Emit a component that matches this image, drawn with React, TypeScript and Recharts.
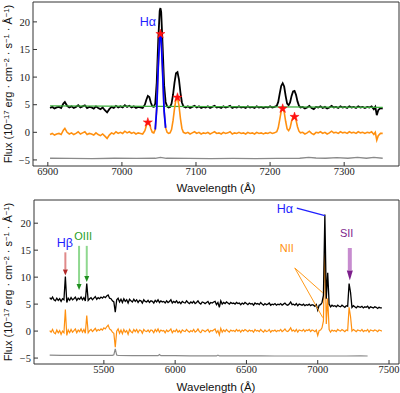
import React from 'react';
import { ComposedChart, Line, XAxis, YAxis, ReferenceLine, ReferenceDot, Symbols } from 'recharts';

// ---- top panel: zoom on the H-alpha region ----
const topWave = [
  6903, 6906, 6909, 6912, 6915, 6918, 6921, 6923, 6926, 6929,
  6932, 6935, 6938, 6941, 6944, 6947, 6950, 6953, 6956, 6959,
  6962, 6965, 6968, 6971, 6974, 6977, 6980, 6983, 6986, 6989,
  6992, 6995, 6998, 7001, 7004, 7007, 7010, 7013, 7016, 7019,
  7022, 7025, 7028, 7031, 7033, 7035, 7037, 7039, 7041, 7043,
  7045, 7047, 7049, 7051, 7052, 7053, 7055, 7057, 7059, 7061,
  7063, 7065, 7067, 7069, 7071, 7073, 7075, 7077, 7079, 7081,
  7083, 7086, 7089, 7092, 7095, 7098, 7101, 7104, 7107, 7110,
  7113, 7116, 7119, 7122, 7125, 7128, 7131, 7134, 7137, 7140,
  7143, 7146, 7149, 7152, 7155, 7158, 7161, 7164, 7167, 7170,
  7173, 7176, 7179, 7182, 7185, 7188, 7191, 7194, 7197, 7200,
  7203, 7206, 7209, 7211, 7213, 7215, 7217, 7219, 7221, 7223,
  7225, 7227, 7229, 7231, 7233, 7235, 7237, 7239, 7241, 7244,
  7247, 7250, 7253, 7256, 7259, 7262, 7265, 7268, 7271, 7274,
  7277, 7280, 7283, 7286, 7289, 7292, 7295, 7298, 7301, 7304,
  7307, 7310, 7313, 7316, 7319, 7322, 7325, 7328, 7331, 7334,
  7337, 7340, 7342, 7344, 7346, 7349, 7352,
];
const topFlux = [
  4.4, 4.6, 4.3, 4.5, 4.6, 4.4, 5.2, 5.5, 4.8, 4.5,
  4.7, 4.4, 4.6, 4.9, 4.5, 4.7, 4.9, 4.4, 4.6, 4.5,
  4.3, 4.7, 4.4, 4.2, 4.5, 4.0, 3.6, 4.2, 4.6, 4.4,
  4.8, 4.5, 4.7, 4.5, 4.9, 4.6, 4.8, 4.5, 4.7, 4.4,
  4.6, 4.5, 4.4, 5.0, 5.9, 6.6, 6.4, 5.4, 4.7, 4.6,
  5.2, 9.0, 16.5, 22.0, 22.5, 21.8, 15.5, 8.5, 5.5, 4.7,
  4.5, 4.6, 5.2, 6.8, 9.0, 10.7, 10.9, 9.6, 7.2, 5.4,
  4.7, 4.5, 4.7, 4.4, 4.6, 4.8, 4.5, 4.7, 4.4, 4.6,
  4.5, 4.7, 4.4, 4.6, 4.8, 4.5, 4.6, 4.4, 4.7, 4.5,
  4.6, 4.8, 4.4, 4.6, 4.5, 4.7, 4.5, 4.6, 4.4, 4.7,
  4.5, 4.6, 4.4, 4.7, 4.5, 4.6, 4.4, 4.6, 4.5, 4.7,
  4.5, 4.6, 4.8, 5.5, 7.0, 8.4, 8.9, 8.3, 6.6, 5.2,
  4.9, 5.4, 6.6, 7.4, 7.5, 6.8, 5.6, 4.8, 4.5, 4.6,
  4.3, 4.5, 4.8, 4.4, 4.2, 4.6, 4.5, 4.7, 4.4, 4.6,
  4.3, 4.5, 4.8, 4.5, 4.6, 4.4, 4.7, 4.5, 4.6, 4.4,
  4.7, 4.5, 4.6, 4.4, 4.7, 4.5, 4.6, 4.4, 4.6, 4.5,
  4.7, 4.2, 4.6, 3.1, 4.0, 4.4, 4.3,
];
// continuum-subtracted spectrum
const topResid = [
  -0.4, -0.2, -0.5, -0.3, -0.2, -0.4, 0.4, 0.7, 0.0, -0.3,
  -0.1, -0.4, -0.2, 0.1, -0.3, -0.1, 0.1, -0.4, -0.2, -0.3,
  -0.5, -0.1, -0.4, -0.6, -0.3, -0.7, -1.1, -0.5, -0.1, -0.3,
  0.1, -0.2, 0.0, -0.2, 0.2, -0.1, 0.1, -0.2, 0.0, -0.3,
  -0.1, -0.2, -0.3, 0.3, 1.2, 1.9, 1.7, 0.7, 0.0, -0.1,
  0.5, 4.3, 11.8, 17.3, 17.8, 17.1, 10.8, 3.8, 0.8, 0.0,
  -0.2, -0.1, 0.5, 2.1, 4.3, 6.0, 6.2, 4.9, 2.5, 0.7,
  0.0, -0.2, 0.0, -0.3, -0.1, 0.1, -0.2, 0.0, -0.3, -0.1,
  -0.2, 0.0, -0.3, -0.1, 0.1, -0.2, -0.1, -0.3, 0.0, -0.2,
  -0.1, 0.1, -0.3, -0.1, -0.2, 0.0, -0.2, -0.1, -0.3, 0.0,
  -0.2, -0.1, -0.3, 0.0, -0.2, -0.1, -0.3, -0.1, -0.2, 0.0,
  -0.2, -0.1, 0.1, 0.8, 2.3, 3.8, 4.3, 3.7, 2.0, 0.6,
  0.3, 0.8, 2.0, 2.8, 2.9, 2.2, 1.0, 0.2, -0.1, 0.0,
  -0.3, -0.1, 0.2, -0.2, -0.4, 0.0, -0.1, 0.1, -0.2, 0.0,
  -0.3, -0.1, 0.2, -0.1, 0.0, -0.2, 0.1, -0.1, 0.0, -0.2,
  0.1, -0.1, 0.0, -0.2, 0.1, -0.1, 0.0, -0.2, 0.0, -0.1,
  0.1, -0.4, 0.0, -1.4, -0.6, -0.2, -0.2,
];
const haFitWave = [7045, 7047, 7049, 7051, 7052, 7053, 7055, 7057, 7059];
const haFitFlux = [0.5, 4.3, 11.8, 17.3, 17.8, 17.1, 10.8, 3.8, 0.8];
const contWave = [6903, 7352];
const contFlux = [4.8, 4.5];
const topErrWave = [6903, 6930, 6960, 6990, 7020, 7045, 7052, 7060, 7090, 7120, 7150, 7180, 7210, 7240, 7252, 7262, 7275, 7290, 7305, 7318, 7330, 7340, 7352];
const topErr = [-4.7, -4.72, -4.75, -4.7, -4.72, -4.7, -4.55, -4.7, -4.72, -4.75, -4.72, -4.75, -4.72, -4.7, -4.55, -4.65, -4.7, -4.6, -4.7, -4.55, -4.7, -4.55, -4.7];
const starWave = [7035, 7052, 7075, 7217, 7233];
const starFlux = [1.8, 17.8, 6.3, 4.3, 2.8];
const topTicks = [6900, 7000, 7100, 7200, 7300];

// ---- bottom panel: full spectrum ----
const botWave = [
  5120, 5130, 5140, 5150, 5160, 5170, 5180, 5190, 5200, 5210,
  5220, 5230, 5240, 5250, 5260, 5270, 5280, 5290, 5300, 5310,
  5320, 5330, 5340, 5350, 5360, 5370, 5380, 5390, 5400, 5410,
  5420, 5430, 5440, 5450, 5460, 5470, 5480, 5490, 5500, 5510,
  5520, 5530, 5540, 5550, 5560, 5570, 5580, 5590, 5600, 5610,
  5620, 5630, 5640, 5650, 5660, 5670, 5680, 5690, 5700, 5710,
  5720, 5730, 5740, 5750, 5760, 5770, 5780, 5790, 5800, 5810,
  5820, 5830, 5840, 5850, 5860, 5870, 5880, 5890, 5900, 5910,
  5920, 5930, 5940, 5950, 5960, 5970, 5980, 5990, 6000, 6010,
  6020, 6030, 6040, 6050, 6060, 6070, 6080, 6090, 6100, 6110,
  6120, 6130, 6140, 6150, 6160, 6170, 6180, 6190, 6200, 6210,
  6220, 6230, 6240, 6250, 6260, 6270, 6280, 6290, 6300, 6310,
  6320, 6330, 6340, 6350, 6360, 6370, 6380, 6390, 6400, 6410,
  6420, 6430, 6440, 6450, 6460, 6470, 6480, 6490, 6500, 6510,
  6520, 6530, 6540, 6550, 6560, 6570, 6580, 6590, 6600, 6610,
  6620, 6630, 6640, 6650, 6660, 6670, 6680, 6690, 6700, 6710,
  6720, 6730, 6740, 6750, 6760, 6770, 6780, 6790, 6800, 6810,
  6820, 6830, 6840, 6850, 6860, 6870, 6880, 6890, 6900, 6910,
  6920, 6930, 6940, 6950, 6960, 6970, 6980, 6990, 7000, 7010,
  7020, 7030, 7040, 7050, 7060, 7070, 7080, 7090, 7100, 7110,
  7120, 7130, 7140, 7150, 7160, 7170, 7180, 7190, 7200, 7210,
  7220, 7230, 7240, 7250, 7260, 7270, 7280, 7290, 7300, 7310,
  7320, 7330, 7340, 7350, 7360, 7370, 7380, 7390, 7400, 7410,
  7420, 7430, 7440, 7450,
];
const botFlux = [
  6.2, 5.9, 6.3, 5.8, 5.6, 6.1, 5.7, 6.0, 5.5, 6.0,
  5.8, 10.1, 5.3, 6.1, 5.7, 6.2, 5.8, 6.0, 6.3, 5.7,
  6.1, 5.9, 6.3, 5.8, 6.2, 5.6, 8.8, 5.7, 6.0, 6.2,
  5.8, 6.1, 6.4, 5.9, 6.2, 6.0, 6.3, 6.1, 6.4, 6.2,
  6.5, 6.7, 6.1, 6.0, 5.6, 5.4, 3.5, 5.8, 6.1, 5.4,
  5.9, 5.3, 6.0, 5.5, 5.8, 5.2, 5.9, 5.6, 5.4, 5.9,
  5.5, 5.8, 5.3, 5.7, 5.6, 5.2, 5.8, 5.5, 5.4, 5.7,
  5.3, 5.6, 5.5, 5.2, 5.7, 5.4, 5.8, 5.3, 5.6, 5.4,
  5.5, 5.2, 5.6, 5.3, 5.5, 5.8, 5.2, 5.5, 5.3, 5.6,
  5.2, 5.4, 5.1, 5.5, 5.3, 5.2, 5.6, 5.3, 5.1, 5.4,
  5.2, 5.5, 5.1, 5.3, 5.6, 5.2, 5.0, 5.4, 5.3, 5.1,
  5.3, 5.5, 5.0, 5.3, 5.2, 5.4, 5.5, 4.9, 5.3, 4.4,
  5.6, 5.0, 5.3, 5.1, 5.4, 5.2, 5.0, 5.3, 5.1, 5.2,
  5.0, 5.3, 5.1, 5.2, 4.9, 5.2, 5.0, 5.3, 5.1, 4.9,
  5.2, 5.0, 5.1, 4.8, 5.2, 5.0, 5.1, 4.9, 5.3, 5.0,
  4.8, 5.1, 4.9, 5.0, 5.2, 4.8, 5.0, 4.9, 5.1, 4.8,
  5.0, 4.9, 5.1, 4.8, 5.0, 5.2, 4.9, 4.8, 5.0, 5.4,
  4.9, 5.0, 4.8, 5.1, 4.7, 5.0, 4.9, 4.8, 5.0, 4.7,
  4.9, 4.8, 5.0, 4.7, 4.9, 4.8, 4.6, 4.9, 3.9, 4.8,
  4.9, 5.3, 6.6, 21.6, 6.0, 10.8, 5.0, 4.5, 4.8, 4.6,
  4.7, 4.5, 4.8, 4.6, 4.5, 4.8, 4.6, 4.4, 4.7, 4.6,
  8.8, 7.2, 4.4, 4.7, 4.5, 4.3, 4.6, 4.5, 4.4, 4.6,
  4.3, 4.5, 4.4, 4.6, 4.2, 4.5, 4.4, 4.3, 4.5, 4.4,
  4.2, 4.4, 4.3, 4.3,
];
const botResid = [
  0.1, -0.2, 0.3, -0.3, -0.5, 0.2, -0.3, 0.1, -0.6, 0.0,
  -0.3, 4.0, -0.8, 0.2, -0.3, 0.3, -0.2, 0.1, 0.4, -0.3,
  0.2, -0.1, 0.4, -0.2, 0.3, -0.4, 2.9, -0.3, 0.1, 0.3,
  -0.1, 0.2, 0.5, 0.0, 0.3, 0.1, 0.4, 0.2, 0.6, 0.4,
  0.8, 1.1, 0.4, 0.2, -0.2, -0.4, -3.0, 0.0, 0.4, -0.4,
  0.2, -0.5, 0.3, -0.2, 0.1, -0.6, 0.3, -0.1, -0.3, 0.3,
  -0.1, 0.3, -0.3, 0.2, 0.1, -0.4, 0.3, 0.0, -0.1, 0.2,
  -0.2, 0.2, 0.1, -0.3, 0.3, -0.1, 0.4, -0.2, 0.2, 0.0,
  0.1, -0.3, 0.2, -0.1, 0.1, 0.4, -0.3, 0.1, -0.1, 0.3,
  -0.2, 0.1, -0.3, 0.2, 0.0, -0.1, 0.3, 0.0, -0.2, 0.1,
  -0.1, 0.3, -0.2, 0.0, 0.4, -0.1, -0.3, 0.2, 0.1, -0.1,
  0.1, 0.3, -0.2, 0.1, 0.0, 0.2, 0.4, -0.3, 0.1, -0.7,
  0.5, -0.2, 0.2, -0.1, 0.3, 0.0, -0.2, 0.2, 0.0, 0.1,
  -0.1, 0.3, 0.0, 0.2, -0.2, 0.2, 0.0, 0.3, 0.1, -0.1,
  0.2, 0.0, 0.1, -0.2, 0.3, 0.0, 0.1, -0.1, 0.3, 0.0,
  -0.2, 0.2, -0.1, 0.0, 0.3, -0.2, 0.1, 0.0, 0.2, -0.1,
  0.1, 0.0, 0.3, -0.1, 0.1, 0.4, 0.0, -0.1, 0.2, 0.6,
  0.0, 0.2, -0.1, 0.3, -0.2, 0.2, 0.1, 0.0, 0.3, -0.1,
  0.2, 0.1, 0.3, -0.1, 0.2, 0.1, -0.1, 0.2, -0.8, 0.1,
  0.2, 0.6, 1.9, 16.9, 1.3, 6.1, 0.3, -0.2, 0.2, 0.0,
  0.1, -0.1, 0.3, 0.1, 0.0, 0.3, 0.1, -0.1, 0.2, 0.1,
  4.4, 2.7, 0.0, 0.3, 0.1, -0.1, 0.2, 0.1, 0.0, 0.3,
  -0.1, 0.1, 0.0, 0.3, -0.2, 0.2, 0.1, 0.0, 0.2, 0.1,
  -0.1, 0.2, 0.1, 0.0,
];
const botErrWave = [5120, 5200, 5300, 5400, 5500, 5560, 5570, 5580, 5590, 5600, 5700, 5800, 5880, 5890, 5900, 6000, 6100, 6200, 6290, 6300, 6310, 6400, 6500, 6600, 6700, 6800, 6900, 7000, 7100, 7200, 7300, 7350];
const botErr = [-4.45, -4.5, -4.5, -4.5, -4.5, -4.5, -4.4, -3.3, -4.45, -4.5, -4.55, -4.55, -4.55, -4.35, -4.55, -4.55, -4.6, -4.6, -4.6, -4.45, -4.6, -4.6, -4.6, -4.6, -4.62, -4.62, -4.62, -4.62, -4.62, -4.62, -4.6, -4.62];
const botTicks = [5500, 6000, 6500, 7000, 7500];
const fluxTicks = [-5, 0, 5, 10, 15, 20];

// line identifications
const lineNames = ['Hβ', 'OIII', 'Hα', 'NII', 'SII'];
const lineNameWave = [5227, 5355, 6769, 6783, 7203];
const lineNameFlux = [16.3, 17.6, 22.6, 15.4, 18.2];
const lineNameColor = ['#1f1fff', '#1f9f1f', '#1f1fff', '#ff9010', '#7d1f8c'];
const arrowWave = [5230, 5326, 5380, 7225];
const arrowTop = [14.6, 15.8, 15.8, 15.4];
const arrowTip = [10.3, 7.6, 9.1, 9.4];
const arrowShaft = ['#e08a8a', '#8fd88f', '#8fd88f', '#c78ccf'];
const arrowHead = ['#b02828', '#1f8f1f', '#1f8f1f', '#7d1f8c'];
const arrowWidth = [2, 2, 2, 4];
const haPointer = [[6853, 22.8], [7050, 21.4]];
const niiPointers = [
  [[6839, 11.7], [7035, 7.1]],
  [[6839, 11.7], [7035, 2.5]],
];

const pts = (xs: number[], ys: number[]) => xs.map((w, i) => ({ w, v: ys[i] }));

const AXIS = '#333';
const tickFont = { fontFamily: '"Liberation Serif", serif', fontSize: 10.5, fill: '#222' };
const frame = { stroke: AXIS, strokeWidth: 1 };
const minus = (v: number) => String(v).replace('-', '\u2212');

const axes = (xDomain: number[], xTicks: number[], yDomain: number[], xHeight: number, yWidth: number) => [
  <XAxis key="xb" type="number" dataKey="w" domain={xDomain} ticks={xTicks} allowDataOverflow interval={0}
    height={xHeight} tickSize={-4} tickMargin={6} tick={tickFont} axisLine={frame} tickLine={frame} />,
  <XAxis key="xt" xAxisId="t" orientation="top" type="number" domain={xDomain} ticks={xTicks} allowDataOverflow
    interval={0} height={1} tickSize={-4} tick={false} axisLine={frame} tickLine={frame} />,
  <YAxis key="yl" type="number" dataKey="v" domain={yDomain} ticks={fluxTicks} allowDataOverflow interval={0}
    width={yWidth} tickSize={-4} tickMargin={7} tick={tickFont} tickFormatter={minus} axisLine={frame} tickLine={frame} />,
  <YAxis key="yr" yAxisId="r" orientation="right" type="number" domain={yDomain} ticks={fluxTicks} allowDataOverflow
    interval={0} width={1} tickSize={-4} tick={false} axisLine={frame} tickLine={frame} />,
];

const spec = (key: string, data: { w: number; v: number }[], stroke: string, width: number) => (
  <Line key={key} data={data} dataKey="v" type="linear" stroke={stroke} strokeWidth={width}
    dot={false} activeDot={false} isAnimationActive={false} />
);

const star = (p: any) => <Symbols cx={p.cx} cy={p.cy} type="star" size={26} fill="#ff1010" stroke="#ff1010" strokeWidth={0.5} />;

const arrowShape = (shaft: string, head: string, width: number) => (p: any) => {
  const { x1, y1, x2, y2 } = p;
  const hl = width > 2 ? 10 : 6;
  const hw = width > 2 ? 3 : 2.5;
  return (
    <g>
      <line x1={x1} y1={y1} x2={x2} y2={y2 - hl} stroke={shaft} strokeWidth={width} />
      <polygon points={`${x2 - hw},${y2 - hl} ${x2 + hw},${y2 - hl} ${x2},${y2}`} fill={head} />
    </g>
  );
};

const tag = (text: string, color: string) => (p: any) => (
  <text x={p.cx} y={p.cy} fill={color} textAnchor="middle" dominantBaseline="central"
    style={{ fontFamily: '"Liberation Sans", sans-serif', fontSize: text.startsWith('H') ? 12.5 : 11 }}>
    {text}
  </text>
);

const sup = (s: string) => (
  <span style={{ fontSize: '0.7em', position: 'relative', top: '-0.45em' }}>{s}</span>
);

function FluxLabel({ cy }: { cy: number }) {
  return (
    <div style={{ position: 'absolute', left: 9, top: cy, transform: 'translate(-50%, -50%) rotate(-90deg)',
      whiteSpace: 'nowrap', fontSize: 11, color: '#111', lineHeight: '12px' }}>
      Flux (10{sup('\u221217')} erg · cm{sup('\u22122')} · s{sup('\u22121')} · Å{sup('\u22121')})
    </div>
  );
}

function WaveLabel({ cy }: { cy: number }) {
  return (
    <div style={{ position: 'absolute', left: 216, top: cy, transform: 'translate(-50%, -50%)',
      whiteSpace: 'nowrap', fontSize: 11.5, color: '#111' }}>
      Wavelength (Å)
    </div>
  );
}

export default function App() {
  return (
    <div style={{ position: 'absolute', left: 0, top: 0, width: 400, height: 393, background: '#fff',
      fontFamily: '"Liberation Sans", sans-serif' }}>
      <div style={{ position: 'absolute', left: 0, top: 0 }}>
        <ComposedChart width={400} height={196} margin={{ top: 1, right: 0, bottom: 0, left: 0 }}>
          {axes([6880, 7374], topTicks, [-6.1, 23.6], 30, 33)}
          {spec('err', pts(topErrWave, topErr), '#8a8a8a', 1.3)}
          {spec('flux', pts(topWave, topFlux), '#000', 1.8)}
          {spec('cont', pts(contWave, contFlux), '#3cae3c', 1.3)}
          {spec('resid', pts(topWave, topResid), '#ff9010', 1.6)}
          {spec('fit', pts(haFitWave, haFitFlux), '#0000ff', 1.8)}
          {starWave.map((w, i) => (
            <ReferenceDot key={`s${i}`} x={w} y={starFlux[i]} r={1} shape={star} />
          ))}
          <ReferenceDot x={7035} y={20} r={1} shape={tag('Hα', '#1f1fff')} />
        </ComposedChart>
      </div>
      <div style={{ position: 'absolute', left: 0, top: 196 }}>
        <ComposedChart width={400} height={197} margin={{ top: 3, right: 0, bottom: 0, left: 0 }}>
          {axes([5010, 7570], botTicks, [-6.1, 24.3], 29, 34)}
          {spec('err', pts(botErrWave, botErr), '#8a8a8a', 1.2)}
          {spec('resid', pts(botWave, botResid), '#ff9010', 1.2)}
          {spec('flux', pts(botWave, botFlux), '#000', 1.3)}
          {arrowWave.map((w, i) => (
            <ReferenceLine key={`a${i}`} segment={[{ x: w, y: arrowTop[i] }, { x: w, y: arrowTip[i] }]}
              shape={arrowShape(arrowShaft[i], arrowHead[i], arrowWidth[i])} />
          ))}
          <ReferenceLine segment={haPointer.map(([x, y]) => ({ x, y }))} stroke="#1f1fff" strokeWidth={1.2} />
          {niiPointers.map((seg, i) => (
            <ReferenceLine key={`n${i}`} segment={seg.map(([x, y]) => ({ x, y }))} stroke="#ff9a1a" strokeWidth={1} />
          ))}
          {lineNames.map((n, i) => (
            <ReferenceDot key={`l${i}`} x={lineNameWave[i]} y={lineNameFlux[i]} r={1}
              shape={tag(n, lineNameColor[i])} />
          ))}
        </ComposedChart>
      </div>
      <FluxLabel cy={84} />
      <FluxLabel cy={282} />
      <WaveLabel cy={188} />
      <WaveLabel cy={387} />
    </div>
  );
}
